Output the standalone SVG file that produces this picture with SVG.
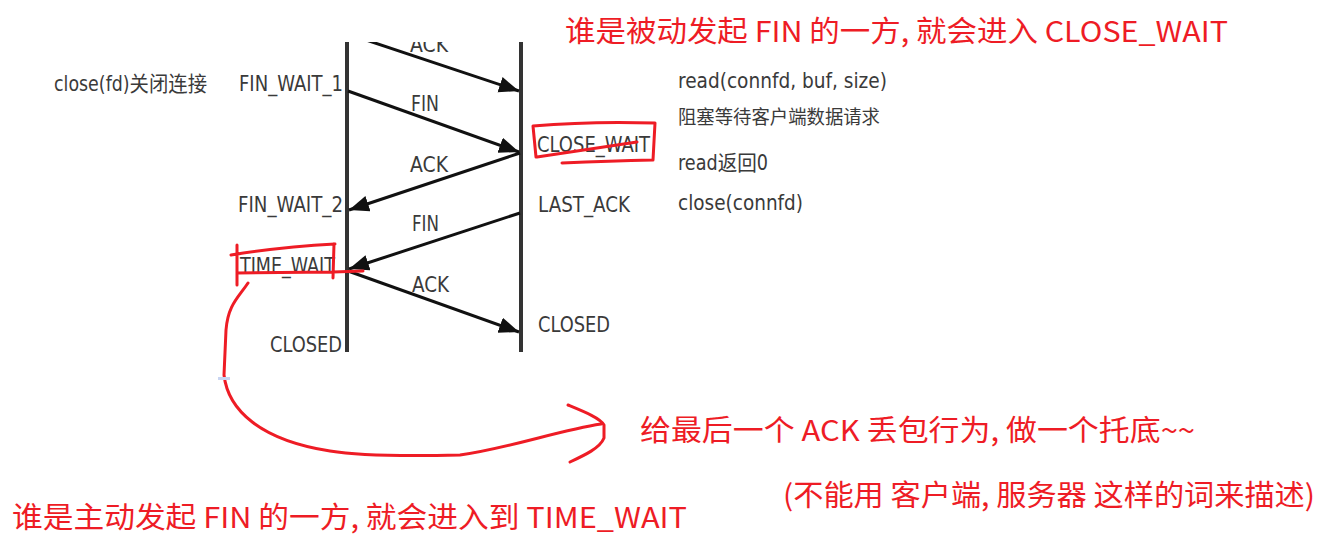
<svg xmlns="http://www.w3.org/2000/svg" width="1342" height="549" viewBox="0 0 1342 549">
<style>
.lbl{font-family:"DejaVu Sans Condensed","DejaVu Sans","Noto Sans CJK SC",sans-serif;font-size:21px;fill:#3a3a3a}
.cjk{font-family:"Noto Sans CJK SC",sans-serif;font-size:19px;fill:#3a3a3a}
.red{font-family:"Noto Sans CJK SC",sans-serif;font-size:29px;fill:#ee1c25}
.life{stroke:#333;stroke-width:4;fill:none}
.msg{stroke:#111;stroke-width:3;fill:none;marker-end:url(#ah)}
.pen{stroke:#ee1c25;stroke-width:3;fill:none;stroke-linecap:round;stroke-linejoin:round}
</style>
<defs>
<marker id="ah" markerUnits="userSpaceOnUse" markerWidth="22" markerHeight="18" refX="20" refY="8" orient="auto">
<path d="M0,0 L20,8 L0,16 Z" fill="#111"/>
</marker>
<clipPath id="clip"><rect x="0" y="42" width="1342" height="507"/></clipPath>
</defs>
<rect width="1342" height="549" fill="#fff"/>
<g id="diagram" clip-path="url(#clip)">
<g id="lifelines">
<line class="life" x1="347" y1="38" x2="347" y2="352"/>
<line class="life" x1="521" y1="38" x2="521" y2="352"/>
</g>
<g id="connectors">
<line class="msg" x1="345" y1="33" x2="519" y2="91"/>
<line class="msg" x1="348" y1="91" x2="519" y2="152"/>
<line class="msg" x1="520" y1="153" x2="349" y2="210"/>
<line class="msg" x1="520" y1="213" x2="349" y2="269"/>
<line class="msg" x1="348" y1="271" x2="519" y2="332"/>
<text class="lbl" x="410" y="52" textLength="38" lengthAdjust="spacingAndGlyphs">ACK</text>
<text class="lbl" x="411" y="111" textLength="28" lengthAdjust="spacingAndGlyphs">FIN</text>
<text class="lbl" x="410" y="172" textLength="38" lengthAdjust="spacingAndGlyphs">ACK</text>
<text class="lbl" x="412" y="231" textLength="27" lengthAdjust="spacingAndGlyphs">FIN</text>
<text class="lbl" x="412" y="292" textLength="37" lengthAdjust="spacingAndGlyphs">ACK</text>
</g>
</g>
<g id="client-labels">
<text class="lbl" x="54" y="91" textLength="153" lengthAdjust="spacingAndGlyphs">close(fd)关闭连接</text>
<text class="lbl" x="239" y="91" textLength="104" lengthAdjust="spacingAndGlyphs">FIN_WAIT_1</text>
<text class="lbl" x="238" y="212" textLength="105" lengthAdjust="spacingAndGlyphs">FIN_WAIT_2</text>
<text class="lbl" x="240" y="273" textLength="95" lengthAdjust="spacingAndGlyphs">TIME_WAIT</text>
<text class="lbl" x="270" y="352" textLength="72" lengthAdjust="spacingAndGlyphs">CLOSED</text>
</g>
<g id="server-labels">
<text class="lbl" x="537" y="152" textLength="113" lengthAdjust="spacingAndGlyphs">CLOSE_WAIT</text>
<text class="lbl" x="538" y="212" textLength="92" lengthAdjust="spacingAndGlyphs">LAST_ACK</text>
<text class="lbl" x="538" y="332" textLength="72" lengthAdjust="spacingAndGlyphs">CLOSED</text>
<text class="lbl" x="678" y="88" textLength="209" lengthAdjust="spacingAndGlyphs">read(connfd, buf, size)</text>
<text class="cjk" x="678" y="124" textLength="202" lengthAdjust="spacingAndGlyphs">阻塞等待客户端数据请求</text>
<text class="lbl" x="678" y="170" textLength="90" lengthAdjust="spacingAndGlyphs">read返回0</text>
<text class="lbl" x="678" y="210" textLength="125" lengthAdjust="spacingAndGlyphs">close(connfd)</text>
</g>
<g id="annotations">
<path class="pen" d="M533,126 Q 590,121 655,123 M533,126 L536,157 M537,157 L637,142 M655,123 L653,160 M562,163 Q 610,161 653,160"/>
<path class="pen" d="M231,255 Q 280,247 335,244 M237,245 L237,285 M334,244 L333,278 M237,273 L333,272 L363,271"/>
<path class="pen" d="M248,283 C 238,298 228,305 226,330 L224,375 C 228,410 260,440 330,451 C 360,456 420,456 460,455 C 510,448 560,430 601,424"/>
<path class="pen" d="M568,405 C 585,412 600,418 604,425 L604,438 C 600,448 585,455 570,462"/>
<rect x="218" y="377" width="12" height="3" fill="#c9d5f2"/>
<text class="red" x="565" y="42" textLength="663" lengthAdjust="spacingAndGlyphs">谁是被动发起 FIN 的一方, 就会进入 CLOSE_WAIT</text>
<text class="red" x="640" y="441" textLength="555" lengthAdjust="spacingAndGlyphs">给最后一个 ACK 丢包行为, 做一个托底~~</text>
<text class="red" x="783" y="506" textLength="532" lengthAdjust="spacingAndGlyphs">(不能用 客户端, 服务器 这样的词来描述)</text>
<text class="red" x="12" y="528" textLength="675" lengthAdjust="spacingAndGlyphs">谁是主动发起 FIN 的一方, 就会进入到 TIME_WAIT</text>
</g>
</svg>
